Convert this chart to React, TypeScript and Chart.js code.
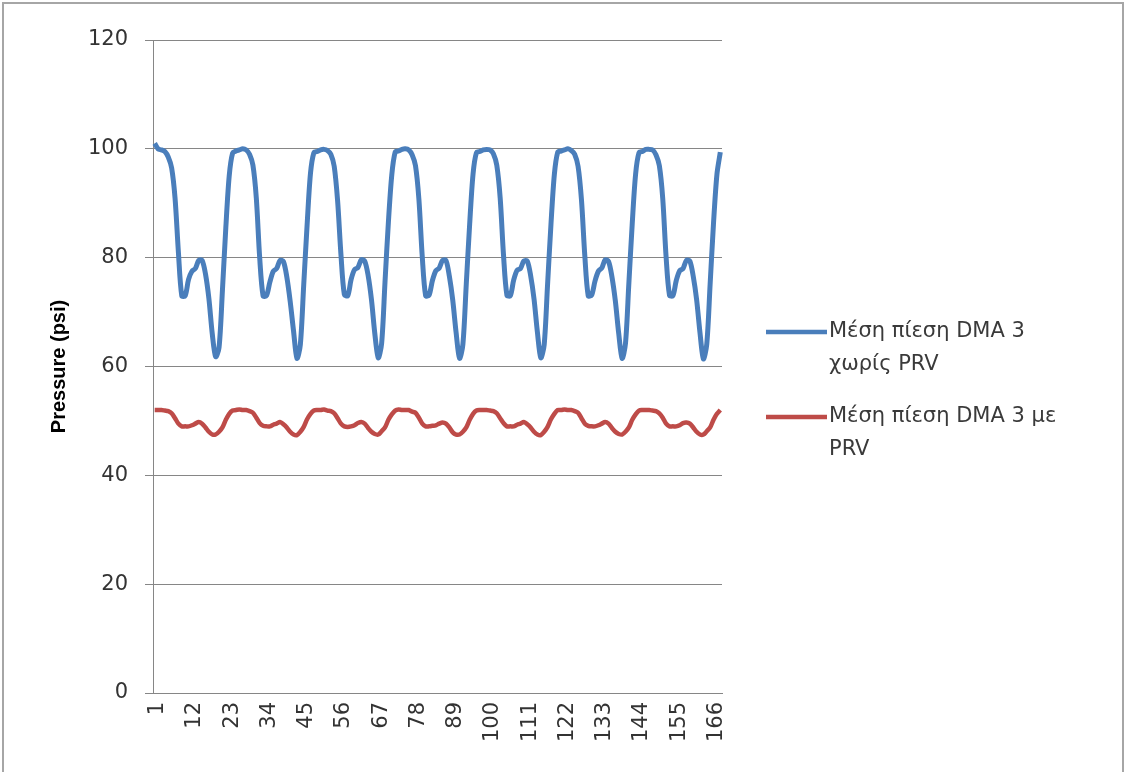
import React, { useEffect, useRef } from 'react';
import { Chart, registerables } from 'chart.js';

Chart.register(...registerables);

// Hour index 1..168 (7 days x 24 hours)
const categories: string[] = Array.from({ length: 168 }, (_, i) => String(i + 1));

const xTickLabels: string[] = ['1', '12', '23', '34', '45', '56', '67', '78', '89', '100', '111', '122', '133', '144', '155', '166'];

const yTicks: number[] = [0, 20, 40, 60, 80, 100, 120];

const seriesNames: string[][] = [
  ['Μέση πίεση DMA 3', 'χωρίς PRV'],
  ['Μέση πίεση DMA 3 με', 'PRV'],
];

const seriesColors: string[] = ['#4a7ebb', '#be4b48'];

const pressureWithoutPRV: number[] = [
  101, 100, 99.8, 99.5, 98.5, 96.5, 91, 81, 73, 73, 76, 77.5, 78, 79.5, 79.5, 77, 72.5, 66, 61.8, 63.5, 74, 85.5, 95, 99.2,
  99.6, 99.8, 100, 99.8, 99, 97, 91, 80, 73, 73, 75.5, 77.5, 78, 79.5, 79.3, 76.5, 72, 66.5, 61.5, 64, 75, 86, 95.5, 99.3,
  99.5, 99.8, 99.9, 99.7, 99, 96.8, 90.5, 80.5, 73.2, 73, 76, 77.8, 78.2, 79.6, 79.4, 76.8, 72.3, 66, 61.6, 64.2, 75.5, 86.5, 95.2, 99.4,
  99.6, 99.9, 100, 99.8, 98.9, 96.9, 90.8, 80.2, 73, 73.1, 75.8, 77.6, 78.1, 79.5, 79.5, 76.6, 72.2, 66.2, 61.5, 64.1, 75.2, 86.2, 95.4, 99.3,
  99.5, 99.8, 99.9, 99.8, 99.1, 97, 91, 80.4, 73.1, 73, 75.9, 77.7, 78, 79.4, 79.4, 76.7, 72.4, 66.3, 61.6, 64, 75.1, 86.1, 95.3, 99.4,
  99.6, 99.8, 100, 99.7, 99, 96.8, 90.7, 80.3, 73, 73.1, 75.7, 77.5, 78.1, 79.6, 79.3, 76.5, 72.1, 66.1, 61.5, 64.2, 75.3, 86.3, 95.4, 99.3,
  99.5, 99.9, 99.9, 99.8, 98.9, 96.9, 90.9, 80.1, 73.1, 73, 75.8, 77.6, 78, 79.5, 79.4, 76.6, 72.3, 66.2, 61.4, 64.1, 75.2, 86.4, 95.3, 99.4,
];

const pressureWithPRV: number[] = [
  52, 52, 52, 51.9, 51.8, 51.4, 50.5, 49.5, 49, 49, 49, 49.2, 49.5, 49.8, 49.5, 48.8, 48, 47.5, 47.5, 48, 48.8, 50.2, 51.3, 51.9,
  52, 52.1, 52, 52, 51.8, 51.5, 50.6, 49.6, 49.1, 49, 49, 49.3, 49.5, 49.8, 49.4, 48.8, 48, 47.5, 47.4, 48, 48.9, 50.3, 51.3, 51.9,
  52, 52, 52.1, 51.9, 51.8, 51.4, 50.5, 49.5, 49, 48.9, 49, 49.2, 49.6, 49.8, 49.5, 48.7, 48, 47.6, 47.5, 48.1, 48.8, 50.2, 51.2, 51.9,
  52.1, 52, 52, 52, 51.7, 51.5, 50.6, 49.5, 49, 49, 49.1, 49.2, 49.5, 49.7, 49.5, 48.8, 47.9, 47.5, 47.5, 48, 48.8, 50.2, 51.3, 51.9,
  52, 52, 52, 51.9, 51.8, 51.4, 50.5, 49.6, 49, 49, 49, 49.3, 49.5, 49.8, 49.4, 48.8, 48, 47.5, 47.4, 48, 48.9, 50.3, 51.3, 52,
  52, 52.1, 52, 52, 51.8, 51.5, 50.5, 49.5, 49.1, 49, 49, 49.2, 49.5, 49.8, 49.5, 48.7, 48, 47.6, 47.5, 48, 48.8, 50.2, 51.2, 51.9,
  52, 52, 52, 51.9, 51.8, 51.4, 50.6, 49.5, 49, 49, 49, 49.2, 49.6, 49.7, 49.5, 48.8, 48, 47.5, 47.5, 48.1, 48.8, 50.2, 51.3, 52,
];

const W = 1129;
const H = 772;
const PLOT_LEFT = 153;
const PLOT_RIGHT = 722;
const PLOT_TOP = 40;
const PLOT_BOTTOM = 693;

const framePlugin = {
  id: 'frame',
  beforeDraw(chart: any) {
    const { ctx, width, height } = chart;
    ctx.save();
    ctx.fillStyle = '#ffffff';
    ctx.fillRect(0, 0, width, height);
    ctx.strokeStyle = '#a6a6a6';
    ctx.lineWidth = 2;
    ctx.strokeRect(3, 3, 1120, height + 20);
    ctx.restore();
  },
};

const sideLegendPlugin = {
  id: 'sideLegend',
  afterDraw(chart: any) {
    const { ctx } = chart;
    ctx.save();
    chart.data.datasets.forEach((ds: any, k: number) => {
      const y = 332 + k * 85;
      ctx.strokeStyle = ds.borderColor;
      ctx.lineWidth = 4.5;
      ctx.lineCap = 'butt';
      ctx.beginPath();
      ctx.moveTo(766, y);
      ctx.lineTo(827, y);
      ctx.stroke();
      ctx.fillStyle = '#3a3a3a';
      ctx.font = '21px "DejaVu Sans"';
      ctx.textBaseline = 'middle';
      ctx.textAlign = 'left';
      seriesNames[k].forEach((t, j) => ctx.fillText(t, 829, y + j * 33));
    });
    ctx.restore();
  },
};

export default function App() {
  const canvasRef = useRef<HTMLCanvasElement | null>(null);

  useEffect(() => {
    if (!canvasRef.current) return;
    const chart = new Chart(canvasRef.current, {
      type: 'line',
      data: {
        labels: categories,
        datasets: [
          {
            label: seriesNames[0].join(' '),
            data: pressureWithoutPRV,
            borderColor: seriesColors[0],
            backgroundColor: seriesColors[0],
            borderWidth: 5,
            pointRadius: 0,
            tension: 0.3,
            fill: false,
          },
          {
            label: seriesNames[1].join(' '),
            data: pressureWithPRV,
            borderColor: seriesColors[1],
            backgroundColor: seriesColors[1],
            borderWidth: 4.5,
            pointRadius: 0,
            tension: 0.3,
            fill: false,
          },
        ],
      },
      options: {
        responsive: false,
        animation: false,
        devicePixelRatio: 1,
        layout: {
          padding: { left: 0, top: PLOT_TOP, right: W - PLOT_RIGHT, bottom: 0 },
        },
        plugins: {
          legend: { display: false },
          tooltip: { enabled: false },
          title: { display: false },
        },
        scales: {
          x: {
            type: 'category',
            offset: true,
            grid: { display: false, drawTicks: false },
            border: { display: true, color: '#868686', width: 1 },
            ticks: {
              autoSkip: false,
              maxRotation: 90,
              minRotation: 90,
              padding: 9,
              labelOffset: 3,
              color: '#333333',
              font: { family: 'DejaVu Sans', size: 21 },
              callback: (_v: any, i: number) => (xTickLabels.includes(categories[i]) ? categories[i] : null),
            },
            afterFit: (scale: any) => {
              scale.height = H - PLOT_BOTTOM;
            },
          },
          y: {
            min: 0,
            max: 120,
            afterBuildTicks: (scale: any) => {
              scale.ticks = yTicks.map((v) => ({ value: v }));
            },
            grid: { color: '#868686', lineWidth: 1, drawTicks: true, tickLength: 8 },
            border: { display: true, color: '#868686', width: 1 },
            ticks: {
              padding: 17,
              color: '#333333',
              font: { family: 'DejaVu Sans', size: 21 },
            },
            title: {
              display: true,
              text: 'Pressure (psi)',
              color: '#000000',
              font: { family: 'Liberation Sans', size: 20, weight: 'bold' },
              padding: { top: 47, bottom: 0 },
            },
            afterFit: (scale: any) => {
              scale.width = PLOT_LEFT;
            },
          },
        },
      },
      plugins: [framePlugin, sideLegendPlugin],
    } as any);
    return () => chart.destroy();
  }, []);

  return (
    <div style={{ position: 'fixed', left: 0, top: 0, width: W, height: H, background: '#fff' }}>
      <canvas ref={canvasRef} width={W} height={H} style={{ display: 'block', width: W, height: H }} />
    </div>
  );
}
